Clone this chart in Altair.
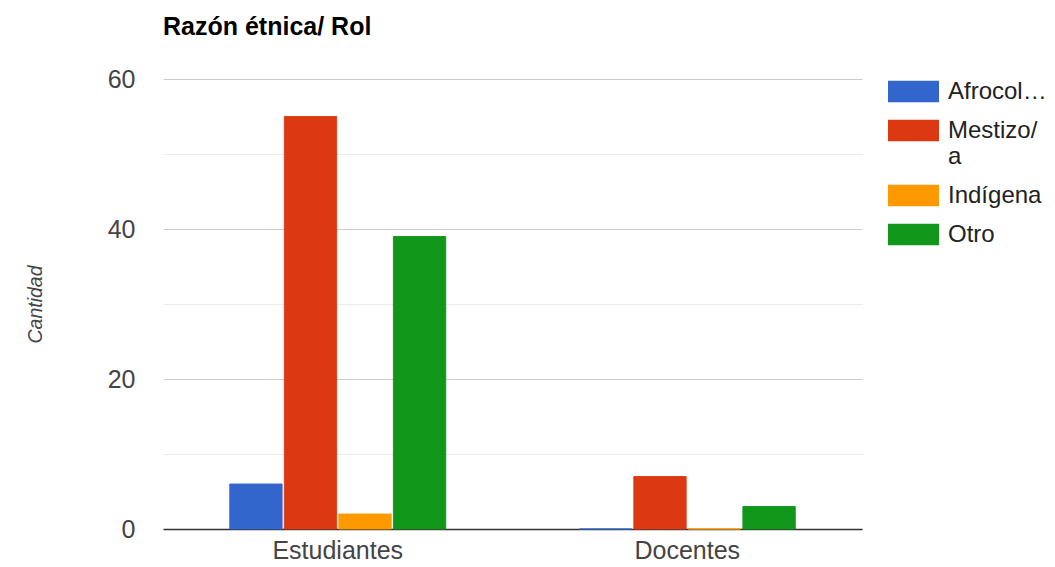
import altair as alt
import pandas as pd

roles = ["Estudiantes", "Docentes"]
etnias = ["Afrocolombiano/a", "Mestizo/a", "Indígena", "Otro"]
estudiantes = [6, 55, 2, 39]
docentes = [0, 7, 0, 3]
colores = ["#3366cc", "#dc3912", "#ff9900", "#109618"]

rows = []
for i, e in enumerate(etnias):
    rows.append({"Rol": roles[0], "Etnia": e, "Cantidad": estudiantes[i]})
    rows.append({"Rol": roles[1], "Etnia": e, "Cantidad": docentes[i]})
df = pd.DataFrame(rows)

FONT = "Liberation Sans"
color_scale = alt.Scale(domain=etnias, range=colores)

legend_expr = ("datum.label === 'Mestizo/a' ? ['Mestizo/', 'a'] : "
               "(datum.label === 'Afrocolombiano/a' ? 'Afrocol\u2026' : datum.label)")

chart = alt.Chart(df).mark_bar(strokeWidth=1, strokeOpacity=0.9).encode(
    x=alt.X("Rol:N", sort=roles, title=None,
            scale=alt.Scale(paddingInner=0.382, paddingOuter=0.191),
            axis=alt.Axis(labelAngle=0, labelFontSize=25, labelColor="#444444",
                          labelFont=FONT, ticks=False, domainColor="#333333",
                          domainWidth=1.5, labelPadding=9)),
    xOffset=alt.XOffset("Etnia:N", sort=etnias,
                        scale=alt.Scale(paddingInner=0.04, paddingOuter=0)),
    y=alt.Y("Cantidad:Q", title="Cantidad",
            scale=alt.Scale(domain=[0, 60], nice=False),
            axis=alt.Axis(values=[0, 10, 20, 30, 40, 50, 60],
                          labelExpr="datum.value % 20 === 0 ? datum.label : ''",
                          gridColor={"condition": {"test": "datum.value % 20 === 0", "value": "#cccccc"}, "value": "#ebebeb"},
                          domain=False, ticks=False, labelFontSize=25,
                          labelColor="#444444", labelFont=FONT, labelPadding=28,
                          titleFont=FONT, titleFontSize=19.5, titleFontStyle="italic",
                          titleFontWeight="normal", titleColor="#444444",
                          titlePadding=62)),
    color=alt.Color("Etnia:N", sort=etnias, scale=color_scale, title=None,
                    legend=alt.Legend(orient="none", legendX=725, legendY=-13,
                                      padding=0,
                                      symbolType="M-1,-0.42L1,-0.42L1,0.42L-1,0.42Z",
                                      symbolSize=2601, symbolStrokeWidth=0,
                                      labelFont=FONT, labelFontSize=24,
                                      labelColor="#222222", labelLimit=0,
                                      labelOffset=9, rowPadding=1,
                                      labelExpr=legend_expr)),
    stroke=alt.Stroke("Etnia:N", sort=etnias, scale=color_scale, legend=None),
).properties(
    width=699,
    height=450,
    title=alt.TitleParams("Razón étnica/ Rol", anchor="start", frame="group", font=FONT,
                          fontSize=25, fontWeight="bold", color="#000000", offset=26),
    autosize=alt.AutoSizeParams(type="none"),
    padding={"left": 155, "top": 71, "right": 185, "bottom": 38},
).configure_view(stroke=None).configure_axis(gridWidth=1)

chart.save("out.html", embed_options={"renderer": "svg", "actions": False})
